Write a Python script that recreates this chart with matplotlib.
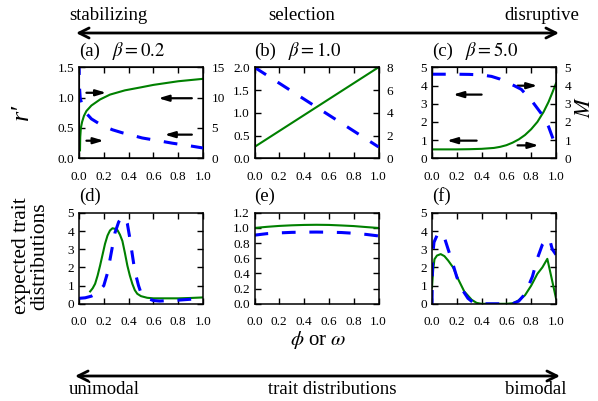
import matplotlib
matplotlib.use("Agg")
import matplotlib.pyplot as plt
from matplotlib.ticker import FormatStrFormatter

plt.rcParams['font.family'] = 'serif'
plt.rcParams['font.serif'] = ['Liberation Serif', 'DejaVu Serif']
plt.rcParams['mathtext.fontset'] = 'stix'

# ---- data ----
# (a) beta = 0.2
a_green_x = [0.008, 0.01, 0.015, 0.025, 0.04, 0.06, 0.1, 0.17, 0.25, 0.37, 0.5, 0.6, 0.7, 0.8, 0.9, 1.0]
a_green_y = [0.13, 0.35, 0.5, 0.6, 0.7, 0.78, 0.87, 0.97, 1.05, 1.12, 1.17, 1.21, 1.24, 1.27, 1.29, 1.31]
a_blue_x = [0.0, 0.003, 0.01, 0.03, 0.06, 0.1, 0.155, 0.2, 0.27, 0.35, 0.4, 0.51, 0.64, 0.75, 0.88, 1.0]
a_blue_y = [16.0, 12.0, 9.9, 8.4, 7.4, 6.5, 5.8, 5.3, 4.7, 4.2, 3.95, 3.35, 2.9, 2.5, 2.1, 1.7]
a_arrows = [((0.06, 1.08), (0.22, 1.08)), ((0.91, 0.99), (0.64, 0.99)),
            ((0.91, 0.39), (0.69, 0.39)), ((0.06, 0.29), (0.20, 0.29))]

# (b) beta = 1.0
b_green_x = [0.0, 1.0]
b_green_y = [0.25, 2.0]
b_blue_x = [0.0, 1.0]
b_blue_y = [8.0, 1.0]

# (c) beta = 5.0
c_green_x = [0.0, 0.1, 0.2, 0.3, 0.4, 0.5, 0.55, 0.6, 0.65, 0.7, 0.75, 0.8, 0.85, 0.9, 0.94, 0.97, 1.0]
c_green_y = [0.49, 0.49, 0.49, 0.5, 0.52, 0.57, 0.63, 0.72, 0.86, 1.04, 1.28, 1.6, 2.0, 2.55, 3.1, 3.6, 4.12]
c_blue_x = [0.0, 0.2, 0.3, 0.4, 0.48, 0.55, 0.61, 0.66, 0.72, 0.8, 0.88, 0.94, 0.98, 1.0]
c_blue_y = [4.62, 4.62, 4.61, 4.58, 4.5, 4.35, 4.15, 4.0, 3.79, 3.2, 2.47, 1.74, 1.0, 0.55]
c_arrows = [((0.40, 3.5), (0.17, 3.5)), ((0.36, 0.97), (0.12, 0.97)),
            ((0.69, 3.99), (0.85, 3.99)), ((0.69, 0.71), (0.86, 0.71))]

# (d) trait distributions, beta = 0.2
d_green_x = [0.09, 0.11, 0.13, 0.15, 0.17, 0.19, 0.21, 0.23, 0.25, 0.27, 0.29, 0.31, 0.33, 0.35,
             0.37, 0.39, 0.41, 0.43, 0.45, 0.47, 0.5, 0.55, 0.6, 0.7, 0.8, 0.9, 1.0]
d_green_y = [0.68, 0.85, 1.1, 1.55, 2.1, 2.7, 3.3, 3.75, 4.03, 4.15, 4.12, 4.05, 3.8, 3.45,
             2.8, 2.1, 1.55, 1.1, 0.75, 0.55, 0.42, 0.33, 0.3, 0.3, 0.3, 0.32, 0.35]
d_blue_x = [0.0, 0.05, 0.1, 0.15, 0.2, 0.23, 0.26, 0.29, 0.32, 0.35, 0.37, 0.39, 0.41, 0.43,
            0.45, 0.48, 0.5, 0.55, 0.6, 0.65, 0.7, 0.8, 0.9, 1.0]
d_blue_y = [0.3, 0.33, 0.42, 0.6, 1.0, 1.7, 2.8, 3.9, 4.5, 4.78, 4.75, 4.4, 3.6, 2.7,
            1.8, 1.0, 0.6, 0.3, 0.18, 0.15, 0.17, 0.2, 0.25, 0.3]

# (e) trait distributions, beta = 1.0
e_x = [0.0, 0.1, 0.2, 0.3, 0.4, 0.5, 0.6, 0.7, 0.8, 0.9, 1.0]
e_green_y = [1.0, 1.015, 1.027, 1.035, 1.04, 1.042, 1.04, 1.033, 1.025, 1.012, 1.0]
e_blue_y = [0.905, 0.925, 0.935, 0.942, 0.945, 0.946, 0.944, 0.94, 0.93, 0.915, 0.895]

# (f) trait distributions, beta = 5.0
f_green_x = [0.0, 0.01, 0.02, 0.04, 0.07, 0.1, 0.13, 0.17, 0.21, 0.26, 0.32, 0.36, 0.4, 0.5,
             0.6, 0.65, 0.69, 0.75, 0.8, 0.85, 0.89, 0.93, 0.96, 1.0]
f_green_y = [0.9, 1.9, 2.45, 2.65, 2.73, 2.62, 2.38, 2.0, 1.37, 0.68, 0.22, 0.05, 0.0, 0.0,
             0.0, 0.03, 0.15, 0.47, 1.0, 1.65, 2.0, 2.47, 1.55, 0.3]
f_blue_x = [0.0, 0.005, 0.016, 0.04, 0.07, 0.09, 0.13, 0.16, 0.2, 0.24, 0.29, 0.33, 0.36, 0.4,
            0.5, 0.6, 0.65, 0.7, 0.745, 0.77, 0.81, 0.85, 0.89, 0.93, 0.95, 0.97, 1.0]
f_blue_y = [0.0, 2.6, 3.38, 3.75, 3.9, 3.85, 3.0, 2.38, 1.47, 0.82, 0.3, 0.08, 0.0, 0.0,
            0.0, 0.0, 0.0, 0.15, 0.5, 0.85, 1.5, 2.5, 3.25, 3.6, 3.5, 3.0, 2.7]

GREEN = '#008000'
BLUE = '#0000ff'
W, H = 598, 401
TICK_FS = 9.5


def style_axis(ax, right_labels=False):
    ax.set_xlim(0, 1)
    ax.set_xticks([0, 0.2, 0.4, 0.6, 0.8, 1.0])
    ax.xaxis.set_major_formatter(FormatStrFormatter('%.1f'))
    ax.tick_params(direction='in', length=4, width=1, labelsize=TICK_FS, top=True,
                   right=not right_labels)
    ax.tick_params(axis='x', pad=9)
    for s in ax.spines.values():
        s.set_linewidth(1.1)


def green(ax, x, y):
    ax.plot(x, y, color=GREEN, lw=1.5)


def blue(ax, x, y):
    ax.plot(x, y, color=BLUE, lw=2.2, dashes=(4.5, 4.5))


def add_arrows(ax, arrows):
    for tail, head in arrows:
        ax.annotate('', xy=head, xytext=tail,
                    arrowprops=dict(arrowstyle='-|>,head_length=0.6,head_width=0.18',
                                    lw=1.6, color='k', shrinkA=0, shrinkB=0, mutation_scale=10))


def panel_label(ax, tag, beta=None):
    ax.text(0.0, 1.18, tag, transform=ax.transAxes, fontsize=13.5, va='center', ha='left')
    if beta is not None:
        ax.text(0.27, 1.18, r'$\beta=%s$' % beta, transform=ax.transAxes,
                fontsize=13.5, va='center', ha='left')


fig = plt.figure(figsize=(W / 100, H / 100), dpi=100)

lefts = [79 / W, 254.5 / W, 432 / W]
aw, ah = 124 / W, 91 / H
top_b = (H - 158.3) / H
bot_b = (H - 303.8) / H

# ---- top row: r' (left) and M (right) ----
top_specs = [
    ('(a)', '0.2', a_green_x, a_green_y, a_blue_x, a_blue_y, (0, 1.5), [0, 0.5, 1.0, 1.5], '%.1f',
     (0, 15), [0, 5, 10, 15], a_arrows),
    ('(b)', '1.0', b_green_x, b_green_y, b_blue_x, b_blue_y, (0, 2.0), [0, 0.5, 1.0, 1.5, 2.0], '%.1f',
     (0, 8), [0, 2, 4, 6, 8], []),
    ('(c)', '5.0', c_green_x, c_green_y, c_blue_x, c_blue_y, (0, 5), [0, 1, 2, 3, 4, 5], '%d',
     (0, 5), [0, 1, 2, 3, 4, 5], c_arrows),
]
for left, spec in zip(lefts, top_specs):
    tag, beta, gx, gy, bx, by, ylim, yt, yfmt, rlim, rt, arrows = spec
    ax = fig.add_axes([left, top_b, aw, ah])
    style_axis(ax, right_labels=True)
    ax.set_ylim(*ylim)
    ax.set_yticks(yt)
    ax.yaxis.set_major_formatter(FormatStrFormatter(yfmt))
    green(ax, gx, gy)
    add_arrows(ax, arrows)
    ax2 = ax.twinx()
    ax2.set_ylim(*rlim)
    ax2.set_yticks(rt)
    ax2.tick_params(direction='in', length=4, width=1, labelsize=TICK_FS, pad=6)
    blue(ax2, bx, by)
    panel_label(ax, tag, beta)

# ---- bottom row: expected trait distributions ----
bot_specs = [
    ('(d)', d_green_x, d_green_y, d_blue_x, d_blue_y, (0, 5), [0, 1, 2, 3, 4, 5], '%d'),
    ('(e)', e_x, e_green_y, e_x, e_blue_y, (0, 1.2), [0, 0.2, 0.4, 0.6, 0.8, 1.0, 1.2], '%.1f'),
    ('(f)', f_green_x, f_green_y, f_blue_x, f_blue_y, (0, 5), [0, 1, 2, 3, 4, 5], '%d'),
]
for left, spec in zip(lefts, bot_specs):
    tag, gx, gy, bx, by, ylim, yt, yfmt = spec
    ax = fig.add_axes([left, bot_b, aw, ah])
    style_axis(ax)
    ax.set_ylim(*ylim)
    ax.set_yticks(yt)
    ax.yaxis.set_major_formatter(FormatStrFormatter(yfmt))
    green(ax, gx, gy)
    blue(ax, bx, by)
    panel_label(ax, tag)

# ---- axis labels ----
fig.text(22 / W, 1 - 112 / H, 'r\u2032', fontsize=19, fontstyle='italic', rotation=90,
         ha='center', va='center')
fig.text(586 / W, 1 - 107 / H, r'$M$', fontsize=16, rotation=90, ha='center', va='center')
fig.text(31 / W, 1 - 256 / H, 'expected trait\ndistributions', fontsize=15.5, rotation=90,
         ha='center', va='center', linespacing=0.95)
fig.text(318 / W, 1 - 340 / H, r'$\phi$ or $\omega$', fontsize=15, ha='center', va='center')


# ---- selection / distribution arrows ----
def wide_arrow(x0, x1, y):
    fig.patches.append(matplotlib.patches.FancyArrowPatch(
        (x0 / W, 1 - y / H), (x1 / W, 1 - y / H), transform=fig.transFigure,
        arrowstyle='<->,head_length=0.6,head_width=0.3', mutation_scale=12,
        lw=2, color='k', shrinkA=0, shrinkB=0))


wide_arrow(76, 559, 33)
wide_arrow(75, 560, 376)

fig.text(108.5 / W, 1 - 15 / H, 'stabilizing', fontsize=13.5, ha='center', va='center')
fig.text(301.5 / W, 1 - 15 / H, 'selection', fontsize=13.5, ha='center', va='center')
fig.text(542 / W, 1 - 15 / H, 'disruptive', fontsize=13.5, ha='center', va='center')
fig.text(104.5 / W, 1 - 390 / H, 'unimodal', fontsize=13.5, ha='center', va='center')
fig.text(332 / W, 1 - 390 / H, 'trait distributions', fontsize=13.5, ha='center', va='center')
fig.text(536 / W, 1 - 390 / H, 'bimodal', fontsize=13.5, ha='center', va='center')

fig.savefig('out.png', dpi=100)
